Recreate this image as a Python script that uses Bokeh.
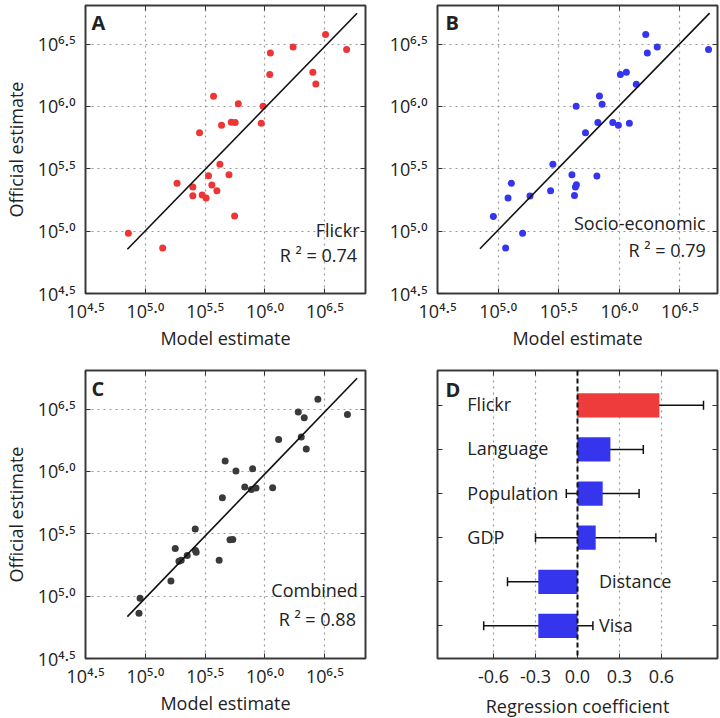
import math
from bokeh.plotting import figure
from bokeh.layouts import gridplot
from bokeh.models import (ColumnDataSource, Label, LabelSet, Range1d, FixedTicker, LinearAxis,
                          CustomJSTickFormatter, Span, Whisker, TeeHead)
from bokeh.core.properties import value
from bokeh.embed import file_html
from bokeh.resources import INLINE

FONT = "Open Sans"
TXT = "#222222"

# ---------------- data ----------------
tick_exponents = [4.5, 5.0, 5.5, 6.0, 6.5]
tick_exponent_labels = ["4.5", "5.0", "5.5", "6.0", "6.5"]
grid_exponents = [5.0, 5.5, 6.0, 6.5]

# panel A: Flickr model (log10) vs official (log10)
flickr_model = [4.858, 5.145, 5.265, 5.397, 5.397, 5.475, 5.508, 5.453, 5.528, 5.556, 5.598,
                5.623, 5.699, 5.746, 5.570, 5.637, 5.718, 5.751, 5.777, 5.969, 5.984, 6.040,
                6.045, 6.235, 6.400, 6.425, 6.506, 6.682]
flickr_official = [4.984, 4.864, 5.384, 5.354, 5.285, 5.290, 5.266, 5.790, 5.445, 5.370, 5.325,
                   5.536, 5.453, 5.121, 6.082, 5.849, 5.873, 5.871, 6.021, 5.865, 6.002, 6.257,
                   6.430, 6.478, 6.275, 6.181, 6.578, 6.457]

# panel B: socio-economic model
socio_model = [4.961, 5.062, 5.082, 5.109, 5.202, 5.263, 5.433, 5.452, 5.609, 5.638, 5.646,
               5.630, 5.815, 5.644, 5.721, 5.823, 5.836, 5.858, 5.946, 5.992, 6.083, 6.009,
               6.058, 6.140, 6.218, 6.231, 6.313, 6.736]
socio_official = [5.118, 4.864, 5.266, 5.384, 4.984, 5.282, 5.325, 5.536, 5.453, 5.354, 5.373,
                  5.287, 5.442, 6.002, 5.790, 5.871, 6.085, 6.018, 5.871, 5.849, 5.865, 6.257,
                  6.275, 6.179, 6.578, 6.430, 6.478, 6.457]

# panel C: combined model
combined_model = [4.947, 4.956, 5.214, 5.250, 5.281, 5.300, 5.350, 5.419, 5.425, 5.417, 5.617,
                  5.708, 5.731, 5.644, 5.667, 5.757, 5.897, 5.831, 5.886, 5.925, 6.064, 6.114,
                  6.303, 6.345, 6.278, 6.328, 6.442, 6.689]
combined_official = [4.863, 4.983, 5.122, 5.382, 5.280, 5.289, 5.326, 5.366, 5.353, 5.538, 5.289,
                     5.452, 5.455, 5.789, 6.084, 6.004, 6.022, 5.875, 5.856, 5.867, 5.869, 6.257,
                     6.276, 6.180, 6.477, 6.432, 6.579, 6.458]

# regression fits (slope, intercept) and x extent of fitted line
fit_slopes = [0.986, 0.997, 0.996]
fit_intercepts = [0.073, 0.024, 0.005]
fit_x_start = [4.85, 4.85, 4.85]
fit_x_end = [6.77, 6.745, 6.77]
r2_values = ["0.74", "0.79", "0.88"]
model_names = ["Flickr", "Socio-economic", "Combined"]

# panel D: regression coefficients
coef_names = ["Flickr", "Language", "Population", "GDP", "Distance", "Visa"]
coef_values = [0.585, 0.235, 0.180, 0.130, -0.280, -0.280]
coef_errors = [0.315, 0.235, 0.260, 0.430, 0.220, 0.390]
coef_ticks = [-0.6, -0.3, 0.0, 0.3, 0.6]
coef_tick_labels = ["-0.6", "-0.3", "0.0", "0.3", "0.6"]

# ---------------- helpers ----------------
SUP = str.maketrans("0123456789.", "\u2070\u00b9\u00b2\u00b3\u2074\u2075\u2076\u2077\u2078\u2079\u00b7")
power_labels = {t: "10" + s.translate(SUP) for t, s in zip(tick_exponents, tick_exponent_labels)}
EMPTY = CustomJSTickFormatter(code="return ''")


def base_axis(ax, ticks):
    ax.ticker = FixedTicker(ticks=ticks)
    ax.major_tick_in = 5
    ax.major_tick_out = 0
    ax.minor_tick_in = 0
    ax.minor_tick_out = 0
    ax.axis_line_color = None
    ax.major_tick_line_color = "#333333"
    ax.major_tick_line_width = 1


def blank_axis(ax, ticks):
    base_axis(ax, ticks)
    ax.formatter = EMPTY
    ax.major_label_standoff = 0
    ax.major_label_text_font_size = "0px"
    ax.axis_label = None


def label_axis(ax, ticks, overrides, standoff, title, title_standoff):
    base_axis(ax, ticks)
    ax.major_label_overrides = overrides
    ax.major_label_standoff = standoff
    ax.major_label_text_font = FONT
    ax.major_label_text_font_size = "18px"
    ax.major_label_text_color = TXT
    if title:
        ax.axis_label = title
        ax.axis_label_standoff = title_standoff
        ax.axis_label_text_font = FONT
        ax.axis_label_text_font_size = "18px"
        ax.axis_label_text_font_style = "normal"
        ax.axis_label_text_color = TXT
    else:
        ax.axis_label = None


def make_fig(xr, yr, left, right, top, bottom):
    p = figure(frame_width=280, frame_height=288, x_range=xr, y_range=yr,
               min_border_left=left, min_border_right=right, min_border_top=top,
               min_border_bottom=bottom, toolbar_location=None, output_backend="svg",
               background_fill_color="white", border_fill_color="white")
    p.outline_line_color = "#3a3a3a"
    p.outline_line_width = 2
    for g in (p.xgrid[0], p.ygrid[0]):
        g.grid_line_color = "#999999"
        g.grid_line_dash = "2 4"
        g.grid_line_width = 1.2
    return p


def add_frame_axes(p, xticks, yticks):
    ax_top = LinearAxis()
    blank_axis(ax_top, xticks)
    p.add_layout(ax_top, "above")
    ax_right = LinearAxis()
    blank_axis(ax_right, yticks)
    p.add_layout(ax_right, "right")


def add_text(p, text, x, y, size="18px", align="left", baseline="middle", xo=0, yo=0,
             bold=False):
    p.add_layout(Label(x=x, y=y, text=text, x_offset=xo, y_offset=yo, text_align=align,
                       text_baseline=baseline, text_font=FONT, text_font_size=size,
                       text_color=TXT, text_font_style="bold" if bold else "normal"))


def scatter_panel(idx, xs, ys, color, left, right, top, bottom, ylabel, name_pos, r2_pos, xend):
    p = make_fig(Range1d(4.5, xend), Range1d(4.5, 6.81), left, right, top, bottom)
    label_axis(p.below[0], tick_exponents, power_labels, 5, "Model estimate", 0)
    label_axis(p.left[0], tick_exponents, power_labels, 10,
               "Official estimate" if ylabel else None, 7)
    add_frame_axes(p, tick_exponents, tick_exponents)
    p.xgrid[0].ticker = FixedTicker(ticks=grid_exponents)
    p.ygrid[0].ticker = FixedTicker(ticks=grid_exponents)
    p.scatter(xs, ys, size=7, fill_color=color, line_color=None)
    fx = [fit_x_start[idx], fit_x_end[idx]]
    fy = [fit_slopes[idx] * v + fit_intercepts[idx] for v in fx]
    p.line(fx, fy, line_color="#111111", line_width=1.6)
    add_text(p, model_names[idx], name_pos[0], name_pos[1], align="right")
    add_text(p, "R \u00b2 = " + r2_values[idx], r2_pos[0], r2_pos[1], align="right")
    return p


pA = scatter_panel(0, flickr_model, flickr_official, "#ee3535", 83, 17, 5, 74, True,
                   (6.79, 5.006), (6.77, 4.805), 6.84)
add_text(pA, "A", 4.5, 6.81, size="20px", xo=6, yo=-17, bold=True)
pB = scatter_panel(1, socio_model, socio_official, "#3535ee", 55, 3, 5, 74, False,
                   (6.713, 5.065), (6.713, 4.845), 6.81)
add_text(pB, "B", 4.5, 6.81, size="20px", xo=8, yo=-17, bold=True)
pC = scatter_panel(2, combined_model, combined_official, "#3a3a3a", 83, 17, 3, 58, True,
                   (6.776, 5.046), (6.76, 4.813), 6.84)
add_text(pC, "C", 4.5, 6.81, size="20px", xo=6, yo=-18, bold=True)

# ---------------- panel D ----------------
n = len(coef_names)
ypos = list(range(n - 1, -1, -1))
pD = make_fig(Range1d(-1.0, 1.0), Range1d(-0.74, 5.79), 55, 3, 3, 58)
label_axis(pD.below[0], coef_ticks, dict(zip(coef_ticks, coef_tick_labels)), 11,
           "Regression coefficient", 8)
blank_axis(pD.left[0], ypos)
add_frame_axes(pD, coef_ticks, ypos)
pD.xgrid[0].ticker = FixedTicker(ticks=coef_ticks)
pD.ygrid[0].visible = False
bar_colors = ["#ee3b3b"] + ["#3535ee"] * (n - 1)
pD.hbar(y=ypos, left=0, right=coef_values, height=0.55, fill_color=bar_colors, line_color=None)
pD.add_layout(Span(location=0, dimension="height", line_color="#111111", line_width=2,
                   line_dash="5 3"))
wsrc = ColumnDataSource(dict(base=ypos,
                             lower=[c - e for c, e in zip(coef_values, coef_errors)],
                             upper=[c + e for c, e in zip(coef_values, coef_errors)]))
pD.add_layout(Whisker(source=wsrc, base="base", lower="lower", upper="upper", dimension="width",
                      line_color="#111111", line_width=1.5,
                      upper_head=TeeHead(size=9, line_color="#111111", line_width=1.5),
                      lower_head=TeeHead(size=9, line_color="#111111", line_width=1.5)))
label_x = [-0.787 if v >= 0.1 else 0.153 for v in coef_values]
lsrc = ColumnDataSource(dict(x=label_x, y=ypos, t=coef_names))
pD.add_layout(LabelSet(x="x", y="y", text="t", source=lsrc, y_offset=1, text_align="left",
                       text_baseline="middle", text_font=value(FONT), text_font_size="18px",
                       text_color=TXT))
add_text(pD, "D", -1.0, 5.79, size="20px", xo=8, yo=-19, bold=True)

grid = gridplot([[pA, pB], [pC, pD]], toolbar_location=None)
open("out.html", "w").write(file_html(grid, INLINE))
